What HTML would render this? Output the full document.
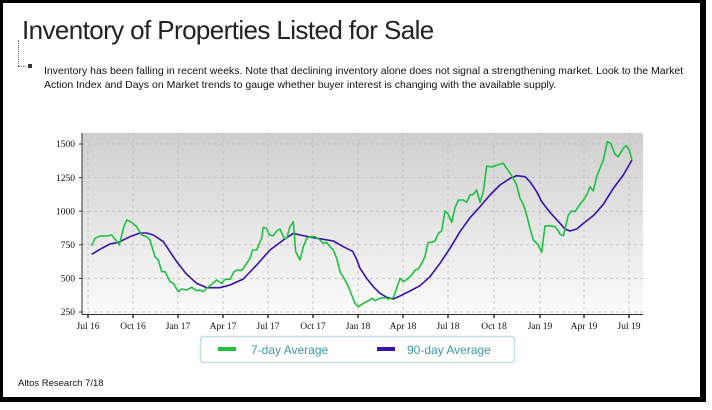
<!DOCTYPE html>
<html><head><meta charset="utf-8"><style>
body{margin:0;width:712px;height:410px;background:#fff;position:relative;overflow:hidden;font-family:"Liberation Sans",sans-serif}
.frame{position:absolute;left:0;top:0;width:697px;height:394px;border:3px solid #000;border-right-width:6px;border-bottom-width:5px}
</style></head><body>
<div class="frame"></div>
<div style="position:absolute;left:22px;top:15px;font-size:26px;color:#222;letter-spacing:-0.6px">Inventory of Properties Listed for Sale</div>
<div style="position:absolute;left:18px;top:40px;width:0;height:26px;border-left:1px dotted #666"></div>
<div style="position:absolute;left:18px;top:66px;width:8px;border-top:1px dotted #666"></div>
<div style="position:absolute;left:28px;top:64px;width:4px;height:4px;background:#333"></div>
<div style="position:absolute;left:44px;top:64px;width:640px;font-size:10.5px;line-height:14px;color:#111">Inventory has been falling in recent weeks. Note that declining inventory alone does not signal a strengthening market. Look to the Market Action Index and Days on Market trends to gauge whether buyer interest is changing with the available supply.</div>
<svg width="712" height="410" style="position:absolute;left:0;top:0">
<defs><linearGradient id="g" x1="0" y1="0" x2="0" y2="1"><stop offset="0" stop-color="#cfcfcf"/><stop offset="1" stop-color="#fbfbfb"/></linearGradient></defs>
<rect x="82" y="133" width="561" height="181" fill="url(#g)"/>
<g stroke="#bbb" stroke-dasharray="3,3" stroke-width="0.8">
<line x1="82" x2="643" y1="144" y2="144"/><line x1="82" x2="643" y1="177.6" y2="177.6"/><line x1="82" x2="643" y1="211.2" y2="211.2"/><line x1="82" x2="643" y1="244.8" y2="244.8"/><line x1="82" x2="643" y1="278.4" y2="278.4"/><line x1="82" x2="643" y1="312" y2="312"/>
<line x1="88" x2="88" y1="133" y2="314"/><line x1="133" x2="133" y1="133" y2="314"/><line x1="178" x2="178" y1="133" y2="314"/><line x1="223" x2="223" y1="133" y2="314"/><line x1="268" x2="268" y1="133" y2="314"/><line x1="313" x2="313" y1="133" y2="314"/><line x1="358" x2="358" y1="133" y2="314"/><line x1="403" x2="403" y1="133" y2="314"/><line x1="448" x2="448" y1="133" y2="314"/><line x1="494" x2="494" y1="133" y2="314"/><line x1="540" x2="540" y1="133" y2="314"/><line x1="584" x2="584" y1="133" y2="314"/><line x1="629" x2="629" y1="133" y2="314"/>
</g>
<g stroke="#333" stroke-width="1">
<line x1="82" y1="133" x2="82" y2="315"/><line x1="82" y1="314.5" x2="643" y2="314.5"/>
<line x1="79" x2="82" y1="144" y2="144"/><line x1="79" x2="82" y1="177.6" y2="177.6"/><line x1="79" x2="82" y1="211.2" y2="211.2"/><line x1="79" x2="82" y1="244.8" y2="244.8"/><line x1="79" x2="82" y1="278.4" y2="278.4"/><line x1="79" x2="82" y1="312" y2="312"/>
</g>
<g stroke="#333" stroke-width="1.5">
<line x1="88" x2="88" y1="314" y2="318"/><line x1="133" x2="133" y1="314" y2="318"/><line x1="178" x2="178" y1="314" y2="318"/><line x1="223" x2="223" y1="314" y2="318"/><line x1="268" x2="268" y1="314" y2="318"/><line x1="313" x2="313" y1="314" y2="318"/><line x1="358" x2="358" y1="314" y2="318"/><line x1="403" x2="403" y1="314" y2="318"/><line x1="448" x2="448" y1="314" y2="318"/><line x1="494" x2="494" y1="314" y2="318"/><line x1="540" x2="540" y1="314" y2="318"/><line x1="584" x2="584" y1="314" y2="318"/><line x1="629" x2="629" y1="314" y2="318"/>
</g>
<g font-family="Liberation Serif,serif" font-size="9.5" fill="#111" text-anchor="end">
<text x="75" y="147">1500</text><text x="75" y="181">1250</text><text x="75" y="214.5">1000</text><text x="75" y="248">750</text><text x="75" y="281.5">500</text><text x="75" y="315">250</text>
</g>
<g font-family="Liberation Serif,serif" font-size="9.5" fill="#111" text-anchor="middle">
<text x="88" y="329">Jul 16</text><text x="133" y="329">Oct 16</text><text x="178" y="329">Jan 17</text><text x="223" y="329">Apr 17</text><text x="268" y="329">Jul 17</text><text x="313" y="329">Oct 17</text><text x="358" y="329">Jan 18</text><text x="403" y="329">Apr 18</text><text x="448" y="329">Jul 18</text><text x="494" y="329">Oct 18</text><text x="540" y="329">Jan 19</text><text x="584" y="329">Apr 19</text><text x="629" y="329">Jul 19</text>
</g>
<g fill="none" stroke-width="1.6" stroke-linejoin="round">
<g transform="translate(30,125) scale(0.33333)">
<polyline vector-effect="non-scaling-stroke" stroke="#3a10a8" points="185,388 210,373 240,357 265,352 300,335 330,324 350,324 370,330 400,350 420,380 440,410 470,448 500,475 530,488 570,488 600,480 640,462 680,420 720,375 760,345 790,325 810,330 850,338 880,343 910,348 940,365 970,380"/>
<polyline vector-effect="non-scaling-stroke" stroke="#1ec040" points="185,362 195,340 210,333 230,333 245,330 265,355 268,360 280,310 290,285 305,292 320,305 335,330 350,335 360,345 375,395 385,405 395,440 405,440 420,470 430,475 445,500 455,492 470,495 485,487 500,497 510,495 520,500 530,490 545,478 560,465 575,475 585,463 600,463 612,440 622,435 635,436 645,423 660,400 668,375 680,375 695,340 700,307 710,310 718,330 730,332 740,318 750,312 762,340 770,340 780,305 790,290 797,380 810,405 820,365 830,340 840,335 855,335 870,345 880,355 890,352 900,365 910,375 920,400 930,440 945,465 955,485 965,510 975,535 985,545 1000,535 1020,525 1025,520"/>
</g>
<g transform="translate(360,125) scale(0.33333)">
<polyline vector-effect="non-scaling-stroke" stroke="#3a10a8" points="-21,381 -10,403 0,430 20,460 40,485 60,505 80,517 100,522 120,513 150,498 180,482 210,455 240,415 270,370 300,320 330,278 360,245 390,210 420,180 450,160 470,152 495,155 510,170 530,200 545,230 570,262 600,295 615,312 630,318 650,312 670,295 700,272 730,238 760,190 790,150 816,105"/>
<polyline vector-effect="non-scaling-stroke" stroke="#1ec040" points="35,518 45,527 60,520 75,518 85,522 100,518 110,490 120,460 130,470 145,460 155,450 165,435 175,432 185,415 195,395 200,370 205,352 215,352 225,348 235,325 245,318 255,258 265,268 275,292 285,248 295,225 310,225 320,232 330,210 340,208 350,195 360,232 370,200 380,123 390,125 400,125 420,117 430,115 440,130 455,152 470,180 480,220 490,238 500,270 510,310 520,345 535,360 545,382 555,303 570,302 585,305 595,318 600,328 610,332 615,312 625,270 635,258 645,260 655,245 670,225 680,210 690,185 700,198 710,155 720,130 730,105 742,50 752,55 765,88 775,95 790,70 798,62 808,75 816,105"/>
</g>
</g>
<rect x="200.5" y="336.5" width="314" height="26" rx="3" fill="#fff" stroke="#bfe0e4" stroke-width="1.5"/>
<rect x="218" y="347" width="18" height="4" fill="#1ec040"/>
<rect x="377" y="347" width="18" height="4" fill="#3a10a8"/>
<g font-family="Liberation Sans,sans-serif" font-size="12" fill="#3d9aa6">
<text x="251" y="354">7-day Average</text><text x="407" y="354">90-day Average</text>
</g>
<text x="18" y="386" font-family="Liberation Sans,sans-serif" font-size="9.5" fill="#111">Altos Research 7/18</text>
</svg>
</body></html>
